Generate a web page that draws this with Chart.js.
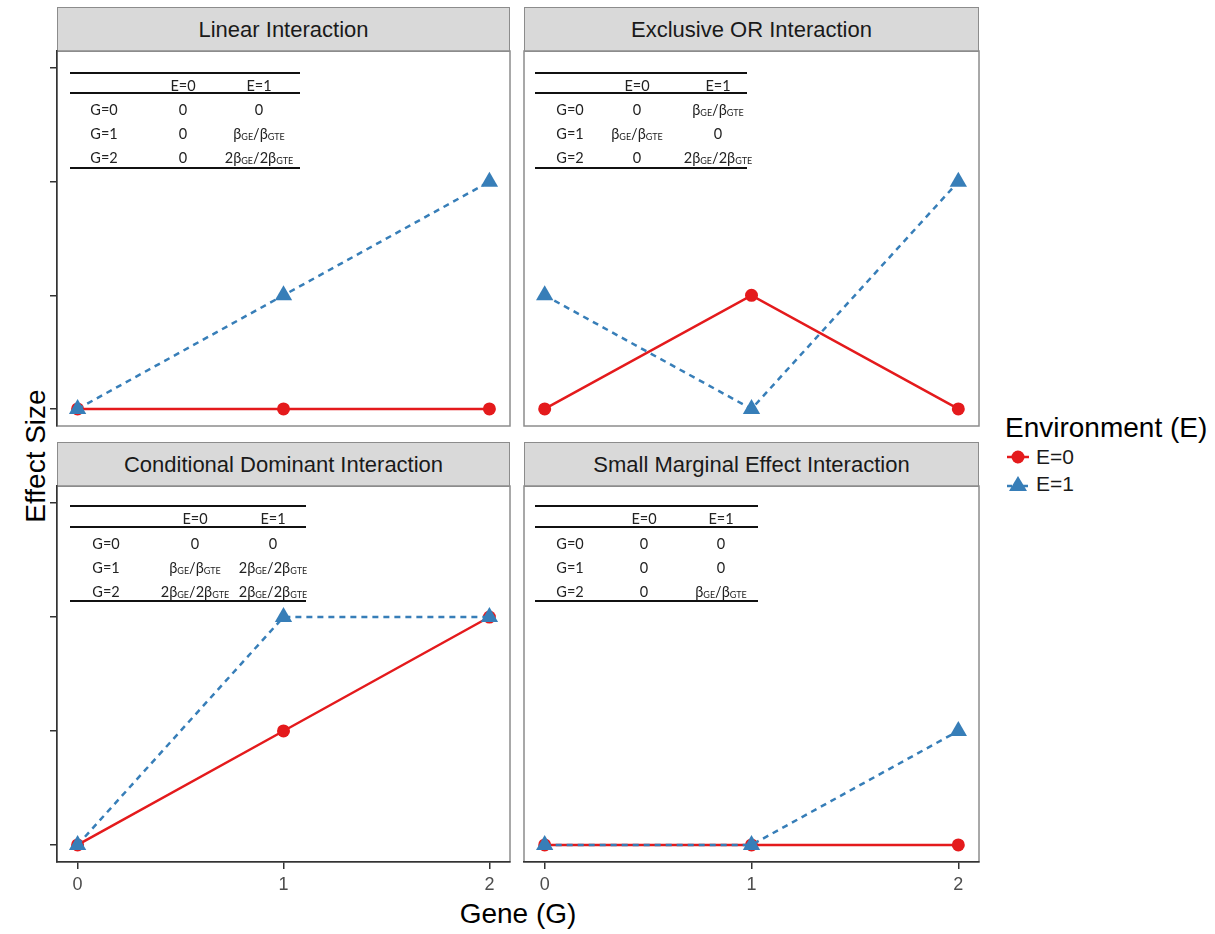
<!DOCTYPE html>
<html>
<head>
<meta charset="utf-8">
<script src="https://cdn.jsdelivr.net/npm/chart.js@4.4.1/dist/chart.umd.min.js"></script>
<style>
  body { margin: 0; background: #fff; }
  #page { position: relative; width: 1215px; height: 934px; font-family: "Liberation Sans", Arial, sans-serif; color: #1a1a1a; }
  .panel { position: absolute; }
  .strip { position: absolute; background: #d9d9d9; border: 1px solid #8c8c8c; box-sizing: border-box;
           display: flex; align-items: center; justify-content: center; font-size: 22px; color: #1a1a1a; }
  .tline { position: absolute; height: 2px; background: #111; }
  .tcell { position: absolute; transform: translate(-50%, -50%); font-family: Lato, "Noto Sans", sans-serif;
           font-size: 14.5px; color: #222; white-space: nowrap; }
  .tcell sub { font-size: 9px; vertical-align: -1px; }
  .axtitle { position: absolute; font-size: 28px; color: #000; white-space: nowrap; }
</style>
</head>
<body>
<div id="page">
  <div class="axtitle" style="left:36px; top:456px; transform: translate(-50%,-50%) rotate(-90deg);">Effect Size</div>
  <div class="axtitle" style="left:518px; top:914px; transform: translate(-50%,-50%);">Gene (G)</div>
  <div id="legend" style="position:absolute; left:1005px; top:413px;">
    <div style="font-size:28px; color:#000; line-height:30px;">Environment (E)</div>
    <div style="display:flex; align-items:center; height:27px; font-size:21px;">
      <svg width="28" height="20"><line x1="2" y1="10" x2="24" y2="10" stroke="#E41A1C" stroke-width="2.5"/><circle cx="13" cy="10" r="6.5" fill="#E41A1C"/></svg>
      <span style="margin-left:3px;">E=0</span>
    </div>
    <div style="display:flex; align-items:center; height:27px; font-size:21px;">
      <svg width="28" height="20"><line x1="2" y1="12" x2="24" y2="12" stroke="#377EB8" stroke-width="2.5" stroke-dasharray="5,3"/><polygon points="13,2 22,17 4,17" fill="#377EB8"/></svg>
      <span style="margin-left:3px;">E=1</span>
    </div>
  </div>
</div>
<script>
// data
const genes = [0, 1, 2];
const effectTicks = [0, 1, 2, 3];
const panelTitles = ["Linear Interaction", "Exclusive OR Interaction",
  "Conditional Dominant Interaction", "Small Marginal Effect Interaction"];

const linearE0 = [0, 0, 0];
const linearE1 = [0, 1, 2];
const xorE0 = [0, 1, 0];
const xorE1 = [1, 0, 2];
const condE0 = [0, 1, 2];
const condE1 = [0, 2, 2];
const smallE0 = [0, 0, 0];
const smallE1 = [0, 0, 1];

const tableHead = ["", "E=0", "E=1"];
const tableRows = ["G=0", "G=1", "G=2"];
const linearTable = [["0", "0"], ["0", "βGE/βGTE"], ["0", "2βGE/2βGTE"]];
const xorTable = [["0", "βGE/βGTE"], ["βGE/βGTE", "0"], ["0", "2βGE/2βGTE"]];
const condTable = [["0", "0"], ["βGE/βGTE", "2βGE/2βGTE"], ["2βGE/2βGTE", "2βGE/2βGTE"]];
const smallTable = [["0", "0"], ["0", "0"], ["0", "βGE/βGTE"]];

const RED = "#E41A1C", BLUE = "#377EB8";

// layout (page pixels)
const colX = [[57, 510], [524, 979]];
const rowY = [[51, 426], [486, 862]];
const stripY = [[7, 51], [442, 486]];
const tableGeo = [
  { x0: 70, x1: 300, cols: [104, 183, 259], lines: [73, 93, 168], head: 85, rows: [109, 133, 157] },
  { x0: 535, x1: 747, cols: [570, 637, 718], lines: [73, 93, 168], head: 85, rows: [109, 133, 157] },
  { x0: 70, x1: 306, cols: [106, 195, 273], lines: [506, 527, 601], head: 518, rows: [543, 567, 591] },
  { x0: 535, x1: 758, cols: [570, 644, 721], lines: [506, 527, 601], head: 518, rows: [543, 567, 591] }
];

const panels = [
  { e0: linearE0, e1: linearE1, table: linearTable },
  { e0: xorE0, e1: xorE1, table: xorTable },
  { e0: condE0, e1: condE1, table: condTable },
  { e0: smallE0, e1: smallE1, table: smallTable }
];

const page = document.getElementById("page");

function fmt(s) {
  return s.replace(/β([A-Z]+)/g, "β<sub>$1</sub>");
}

function addDiv(cls, css, html) {
  const d = document.createElement("div");
  d.className = cls;
  Object.assign(d.style, css);
  if (html !== undefined) d.innerHTML = html;
  page.appendChild(d);
  return d;
}

const panelBorder = {
  id: "panelBorder",
  beforeDraw(chart) {
    const a = chart.chartArea, ctx = chart.ctx;
    ctx.save();
    ctx.strokeStyle = "#8c8c8c";
    ctx.lineWidth = 1.5;
    ctx.strokeRect(a.left, a.top, a.right - a.left, a.bottom - a.top);
    ctx.restore();
  }
};

panels.forEach((p, i) => {
  const col = i % 2, row = Math.floor(i / 2);
  const [x0, x1] = colX[col], [y0, y1] = rowY[row];
  const showY = col === 0, showX = row === 1;

  // strip header
  addDiv("strip", { left: x0 + "px", top: stripY[row][0] + "px",
    width: (x1 - x0) + "px", height: (stripY[row][1] - stripY[row][0] + 1) + "px" }, panelTitles[i]);

  // chart canvas
  const wrap = addDiv("panel", { left: (x0 - 30) + "px", top: (y0 - 10) + "px" });
  const cv = document.createElement("canvas");
  const w = x1 - x0 + 40, h = y1 - y0 + 60;
  cv.width = w; cv.height = h;
  cv.style.width = w + "px"; cv.style.height = h + "px";
  wrap.appendChild(cv);

  new Chart(cv.getContext("2d"), {
    type: "line",
    data: {
      datasets: [
        { label: "E=0", data: genes.map((g, k) => ({ x: g, y: p.e0[k] })), order: 1,
          borderColor: RED, backgroundColor: RED, borderWidth: 2.5,
          pointStyle: "circle", pointRadius: 6.5, pointBorderWidth: 0, pointBackgroundColor: RED, clip: false },
        { label: "E=1", data: genes.map((g, k) => ({ x: g, y: p.e1[k] })), order: 0,
          borderColor: BLUE, backgroundColor: BLUE, borderWidth: 2.5, borderDash: [6, 5],
          pointStyle: "triangle", pointRadius: 10, pointBorderWidth: 0, pointBackgroundColor: BLUE, clip: false }
      ]
    },
    options: {
      responsive: false,
      animation: false,
      layout: { padding: { left: 20, right: 10, top: 10, bottom: 10 } },
      plugins: { legend: { display: false }, tooltip: { enabled: false } },
      scales: {
        x: {
          type: "linear", min: -0.1, max: 2.1,
          afterBuildTicks: s => { s.ticks = genes.map(v => ({ value: v })); },
          afterFit: s => { s.height = 40; },
          grid: { display: showX, drawOnChartArea: false, drawTicks: true, tickLength: 7, color: "#333", lineWidth: 1.5 },
          border: { display: showX, color: "#333", width: 1.5 },
          ticks: { display: showX, padding: 5, color: "#4d4d4d",
                   font: { family: "Liberation Sans", size: 18 }, callback: v => String(v) }
        },
        y: {
          type: "linear", min: -0.15, max: 3.15,
          afterBuildTicks: s => { s.ticks = effectTicks.map(v => ({ value: v })); },
          afterFit: s => { s.width = 10; },
          grid: { display: showY, drawOnChartArea: false, drawTicks: true, tickLength: 7, color: "#333", lineWidth: 1.5 },
          border: { display: showY, color: "#333", width: 1.5 },
          ticks: { display: false }
        }
      }
    },
    plugins: [panelBorder]
  });

  // effect table
  const g = tableGeo[i];
  g.lines.forEach(y => addDiv("tline", { left: g.x0 + "px", top: (y - 1) + "px", width: (g.x1 - g.x0) + "px" }));
  tableHead.forEach((t, c) => {
    if (t) addDiv("tcell", { left: g.cols[c] + "px", top: g.head + "px" }, t);
  });
  tableRows.forEach((r, k) => {
    addDiv("tcell", { left: g.cols[0] + "px", top: g.rows[k] + "px" }, r);
    p.table[k].forEach((t, c) => addDiv("tcell", { left: g.cols[c + 1] + "px", top: g.rows[k] + "px" }, fmt(t)));
  });
});
</script>
</body>
</html>
